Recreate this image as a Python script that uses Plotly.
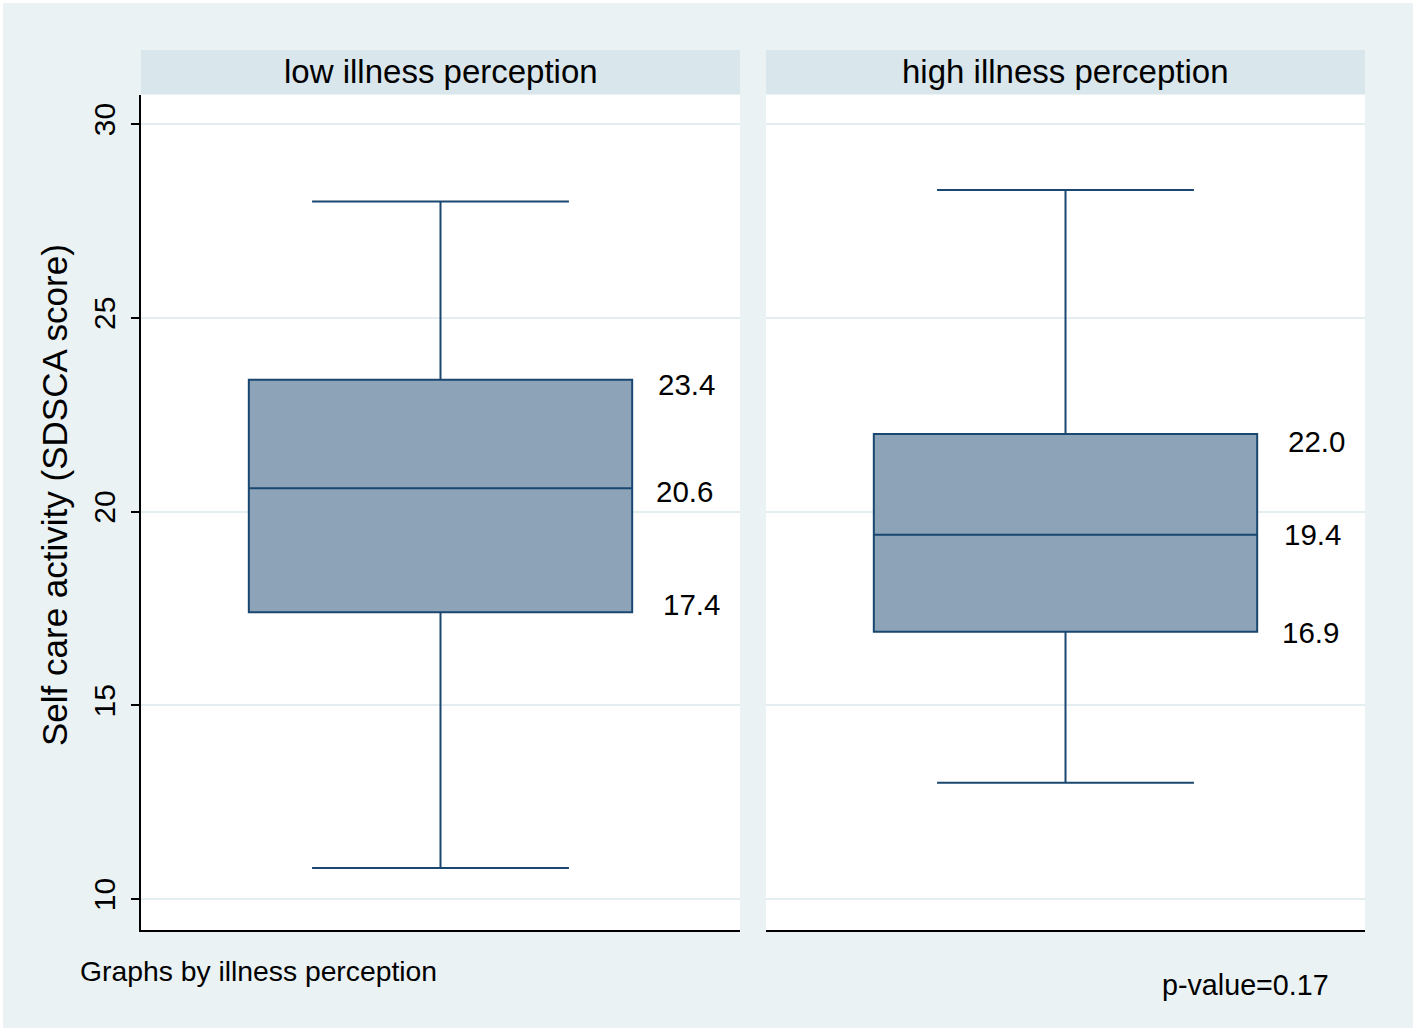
import plotly.graph_objects as go

# ---- data ----
groups = ["low illness perception", "high illness perception"]
q1 = [17.4, 16.9]
median = [20.6, 19.4]
q3 = [23.4, 22.0]
lower_whisker = [10.8, 13.0]
upper_whisker = [28.0, 28.3]
y_ticks = [10, 15, 20, 25, 30]
footnote = "Graphs by illness perception"
pvalue_text = "p-value=0.17"
y_title = "Self care activity (SDSCA score)"

# ---- style ----
W, H = 1416, 1032
FONT = "Liberation Sans, Arial, Helvetica, sans-serif"
BG = "#EAF2F3"
STRIP = "#D9E6EB"
NAVY = "#1A476F"
FILL = "#8DA3B8"
GRID = "#E4EEF1"
# small pixel nudges of the value labels (q3, median, q1) per panel
label_yshift = [[-5, -3, 8], [-7, 0, -1]]
label_xshift = [[0, -2, 5], [5, 1, -1]]

def px_x(p):
    return p / W

def px_y(p):
    return 1 - p / H

dom1 = [px_x(141), px_x(740)]
dom2 = [px_x(766), px_x(1365)]
ydom = [px_y(930), px_y(95)]

fig = go.Figure()
for i, g in enumerate(groups):
    ax = "" if i == 0 else "2"
    fig.add_trace(go.Box(
        x=[0], q1=[q1[i]], median=[median[i]], q3=[q3[i]],
        lowerfence=[lower_whisker[i]], upperfence=[upper_whisker[i]],
        width=0.64, whiskerwidth=0.67,
        fillcolor=FILL, line=dict(color=NAVY, width=2),
        boxpoints=False, showlegend=False, name=g,
        xaxis="x" + ax, yaxis="y" + ax,
    ))

yr = [9.2, 30.75]
common_x = dict(range=[-0.5, 0.5], showgrid=False, zeroline=False, showticklabels=False,
                ticks="", showline=True, linecolor="black", linewidth=2, fixedrange=True)
fig.update_layout(
    width=W, height=H,
    margin=dict(l=0, r=0, t=0, b=0),
    paper_bgcolor="white",
    plot_bgcolor="white",
    font=dict(family=FONT, color="black"),
    xaxis=dict(domain=dom1, anchor="y", **common_x),
    xaxis2=dict(domain=dom2, anchor="y2", **common_x),
    yaxis=dict(domain=ydom, anchor="x", range=yr, tickvals=y_ticks,
               tickangle=-90, tickfont=dict(size=30, family=FONT), ticks="outside",
               ticklen=8, tickwidth=2, tickcolor="black", showline=True,
               linecolor="black", linewidth=2, showgrid=True, gridcolor=GRID,
               gridwidth=2, zeroline=False, ticklabelstandoff=4),
    yaxis2=dict(domain=ydom, anchor="x2", range=yr, tickvals=y_ticks,
                showticklabels=False, ticks="", showline=False, showgrid=True,
                gridcolor=GRID, gridwidth=2, zeroline=False),
)

shapes = [
    dict(type="rect", xref="paper", yref="paper", x0=px_x(3), x1=px_x(1413),
         y0=px_y(1028), y1=px_y(3), fillcolor=BG, line=dict(width=0), layer="below"),
]
for dom in (dom1, dom2):
    shapes.append(dict(type="rect", xref="paper", yref="paper", x0=dom[0], x1=dom[1],
                       y0=ydom[0], y1=ydom[1], fillcolor="white", line=dict(width=0),
                       layer="below"))
annotations = []
for dom, g in zip([dom1, dom2], groups):
    shapes.append(dict(type="rect", xref="paper", yref="paper", x0=dom[0], x1=dom[1],
                       y0=px_y(94), y1=px_y(50), fillcolor=STRIP, line=dict(width=0)))
    annotations.append(dict(text=g, xref="paper", yref="paper", x=(dom[0] + dom[1]) / 2,
                            y=px_y(71), xanchor="center", yanchor="middle", showarrow=False,
                            font=dict(size=33, family=FONT, color="black")))

for i in range(len(groups)):
    ax = "" if i == 0 else "2"
    for j, v in enumerate((q3[i], median[i], q1[i])):
        annotations.append(dict(text=f"{v:.1f}", xref="x" + ax, yref="y" + ax, x=0.41, y=v,
                                xanchor="center", yanchor="middle", showarrow=False,
                                xshift=label_xshift[i][j], yshift=label_yshift[i][j],
                                font=dict(size=29.5, family=FONT, color="black")))

annotations.append(dict(text=y_title, xref="paper", yref="paper", x=px_x(55), y=px_y(495),
                        xanchor="center", yanchor="middle", textangle=-90, showarrow=False,
                        font=dict(size=35, family=FONT, color="black")))
annotations.append(dict(text=footnote, xref="paper", yref="paper", x=px_x(78), y=px_y(971),
                        xanchor="left", yanchor="middle", showarrow=False,
                        font=dict(size=28.3, family=FONT, color="black")))
annotations.append(dict(text=pvalue_text, xref="paper", yref="paper", x=px_x(1331), y=px_y(985),
                        xanchor="right", yanchor="middle", showarrow=False,
                        font=dict(size=28.7, family=FONT, color="black")))

fig.update_layout(shapes=shapes, annotations=annotations)
fig.write_html("out.html", config={"displayModeBar": False},
               post_script="document.body.style.margin='0';")
